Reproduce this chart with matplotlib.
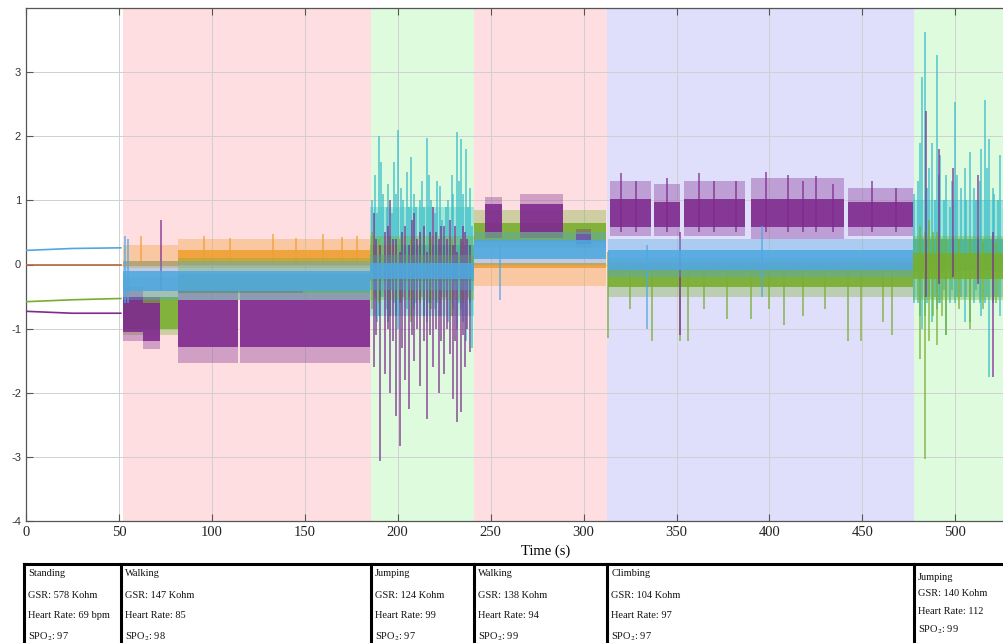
import matplotlib
matplotlib.use("Agg")
import matplotlib.pyplot as plt

plt.rcParams['axes.unicode_minus'] = False
plt.rcParams['mathtext.fontset'] = 'stix'

# activity segments (s) and background colours
seg_edges = [52.3, 185.4, 241.0, 312.7, 477.6, 559.0]
seg_colors = ['#FFDEE1', '#DEFBDD', '#FFDEE1', '#DFDEFB', '#DEFBDD']

# table text
activities = ['Standing', 'Walking', 'Jumping', 'Walking', 'Climbing', 'Jumping']
gsr = [578, 147, 124, 138, 104, 140]
heart = ['69 bpm', '85', '99', '94', '97', '112']
spo2 = [97, 98, 97, 99, 97, 99]
cell_edges = [-1.0, 51.2, 185.4, 241.0, 312.7, 477.6]

# standing phase: flat traces
stand_t = [0, 25, 51]
stand_blue = [0.22, 0.25, 0.26]
stand_orange = [0.0, 0.0, 0.0]
stand_green = [-0.58, -0.55, -0.53]
stand_purple = [-0.73, -0.76, -0.76]

# activity blocks per channel: (t0, t1, outer_lo, outer_hi, core_lo, core_hi)
orange_blocks = [
    (52, 82, -0.05, 0.30, -0.03, 0.06),
    (82, 185, -0.05, 0.40, 0.00, 0.22),
    (185, 200, -0.20, 0.30, -0.05, 0.10),
    (241, 312, -0.33, 0.03, -0.06, 0.02),
    (313, 477, -0.10, 0.05, -0.05, 0.03),
]
green_blocks = [
    (52, 82, -1.10, -0.20, -1.00, -0.50),
    (82, 185, -0.55, 0.10, -0.45, -0.15),
    (185, 241, -0.55, 0.45, -0.25, 0.15),
    (241, 312, 0.25, 0.85, 0.35, 0.65),
    (313, 477, -0.50, 0.10, -0.35, -0.05),
    (477, 559, -0.55, 0.45, -0.22, 0.18),
]
purple_blocks = [
    (52, 63, -1.20, -0.35, -1.05, -0.50),
    (63, 72, -1.32, -0.50, -1.20, -0.60),
    (82, 114, -1.53, -0.40, -1.28, -0.55),
    (115, 149, -1.53, -0.42, -1.28, -0.55),
    (149, 185, -1.53, -0.45, -1.28, -0.55),
    (247, 256, 0.42, 1.06, 0.50, 0.95),
    (266, 289, 0.42, 1.10, 0.50, 0.95),
    (296, 304, 0.28, 0.55, 0.32, 0.48),
    (314, 336, 0.45, 1.30, 0.58, 1.02),
    (338, 352, 0.45, 1.25, 0.58, 0.98),
    (354, 387, 0.45, 1.30, 0.58, 1.02),
    (390, 440, 0.40, 1.35, 0.58, 1.02),
    (442, 477, 0.45, 1.20, 0.58, 0.98),
]
blue_blocks = [
    (52, 185, -0.55, 0.05, -0.42, -0.10),
    (185, 241, -0.40, 0.15, -0.22, 0.02),
    (241, 312, 0.00, 0.50, 0.08, 0.38),
    (313, 477, -0.20, 0.40, -0.08, 0.22),
]
cyan_blocks = [
    (185, 241, -0.80, 0.90, -0.20, 0.30),
    (477, 559, -0.50, 1.00, -0.10, 0.40),
]

# spikes per channel: (t, lo, hi)
cyan_spikes = [
    (186, -0.4, 1.0), (188, -0.5, 1.4), (189, -0.9, 0.8), (190, -0.8, 2.0),
    (191, -0.5, 1.6), (192, -0.5, 1.1), (194, -0.7, 0.9), (195, -0.9, 1.25),
    (197, -0.4, 0.8), (198, -0.6, 1.6), (199, -0.8, 1.1), (200, -1.0, 2.1),
    (202, -0.6, 1.2), (203, -0.5, 1.0), (205, -0.7, 1.45), (206, -0.5, 0.9),
    (207, -0.8, 1.68), (209, -0.7, 1.1), (210, -0.6, 0.9), (212, -0.5, 1.0),
    (213, -0.5, 1.3), (214, -0.8, 0.9), (215.5, -0.9, 1.98), (217, -0.6, 1.4),
    (218, -0.6, 1.0), (220, -0.7, 0.8), (221, -0.6, 1.3), (223, -0.8, 1.22),
    (224, -0.5, 0.7), (226, -0.5, 0.9), (227, -0.9, 1.0), (229, -0.6, 1.4),
    (230, -0.7, 1.1), (232, -1.0, 2.07), (233, -0.6, 1.3), (234, -0.7, 1.95),
    (235, -0.9, 1.1), (236.5, -1.2, 1.8), (238, -0.5, 0.9), (239, -0.6, 1.2),
    (240, -1.3, 0.6),
    (478, -0.6, 1.1), (480, -0.6, 1.3), (481, -0.8, 1.9), (482, -1.0, 2.93),
    (483.6, -0.8, 3.63), (485, -0.6, 1.2), (486, -0.5, 1.5), (487.7, -0.9, 1.9),
    (489, -0.5, 1.0), (490, -0.7, 3.27), (491, -0.6, 1.4), (492, -0.6, 1.7),
    (494, -0.4, 1.0), (495, -1.1, 1.4), (497, -0.6, 0.9), (498, -0.4, 1.3),
    (500, -0.6, 2.54), (501, -0.5, 1.4), (503, -0.5, 1.2), (505, -0.9, 1.5),
    (506, -0.5, 1.0), (508, -0.9, 1.75), (510, -0.6, 1.2), (511, -0.4, 1.0),
    (513, -0.6, 1.3), (514, -0.8, 1.8), (516, -0.6, 2.57), (517, -0.5, 1.5),
    (518, -1.76, 1.96), (520, -0.6, 1.2), (521, -0.5, 1.1), (523, -0.5, 1.0),
    (524, -0.8, 1.7), (526, -0.6, 2.2), (528, -0.5, 1.3), (530, -0.5, 1.6),
    (534, -0.9, 2.3), (538, -0.6, 1.4),
]
purple_spikes = [
    (72.5, -0.4, 0.7),
    (187, -1.6, 0.8), (188.5, -1.1, 0.4), (190.5, -3.07, 0.3), (193, -1.7, 0.5),
    (194.5, -1.0, 0.6), (196, -2.0, 1.0), (197.5, -1.2, 0.4), (199, -2.37, 0.4),
    (201, -2.83, 0.2), (202.5, -1.3, 0.5), (204, -1.8, 0.6), (206, -2.26, 0.3),
    (207.5, -1.1, 0.7), (209, -1.5, 0.8), (210.5, -1.0, 0.4), (212, -1.9, 0.5),
    (214, -1.2, 0.6), (216, -2.41, 0.2), (217.5, -1.1, 0.5), (219, -1.6, 0.9),
    (220.5, -1.0, 0.5), (222, -2.0, 0.4), (223.5, -1.2, 0.6), (225, -1.7, 0.6),
    (226.5, -1.0, 0.4), (228, -1.4, 0.7), (230, -2.1, 0.3), (231, -1.2, 0.6),
    (232, -2.46, 0.2), (234, -2.3, 0.4), (235, -1.1, 0.6), (236, -1.6, 0.5),
    (237.5, -1.0, 0.4), (239, -1.37, 0.3),
    (320, 0.5, 1.43), (328, 0.5, 1.3), (345, 0.5, 1.35), (352, -1.1, 0.5),
    (362, 0.5, 1.42), (370, 0.5, 1.3), (382, 0.5, 1.3), (398, 0.5, 1.45),
    (410, 0.5, 1.4), (418, 0.5, 1.3), (425, 0.5, 1.38), (434, 0.5, 1.25),
    (455, 0.5, 1.3), (468, 0.5, 1.2),
    (484, -0.5, 2.4), (491, -0.3, 1.8), (499, -0.2, 1.5), (512, -0.3, 1.4),
    (520, -1.76, 0.5),
]
green_spikes = [
    (186, -0.7, 0.5), (190, -0.6, 0.4), (196, -0.8, 0.45), (201, -0.6, 0.4),
    (207, -0.9, 0.4), (212, -0.6, 0.35), (218, -0.7, 0.4), (223, -0.6, 0.3),
    (229, -0.8, 0.4), (235, -0.6, 0.35),
    (313, -1.14, 0.2), (325, -0.7, 0.0), (337, -1.2, 0.0), (352, -1.2, 0.0),
    (356, -1.2, 0.0), (365, -0.7, 0.0), (377, -0.85, 0.0), (390, -0.85, 0.0),
    (400, -0.7, 0.0), (408, -0.95, 0.0), (418, -0.8, 0.0), (430, -0.7, 0.0),
    (442, -1.2, 0.0), (449, -1.2, 0.0), (461, -0.9, 0.0), (466, -1.1, 0.0),
    (481, -1.48, 0.6), (483.6, -3.04, 0.5), (486, -1.2, 0.7), (488, -0.8, 0.5),
    (490, -1.25, 0.5), (493, -0.8, 0.4), (495, -1.1, 0.4), (502, -0.7, 0.4),
    (508, -1.0, 0.4), (515, -0.7, 0.35), (522, -0.6, 0.35),
]
blue_spikes = [
    (53, -0.6, 0.45), (55, -0.6, 0.4), (255, -0.55, 0.3), (334, -1.0, 0.3),
    (396, -0.5, 0.6),
]
orange_spikes = [
    (62, 0.0, 0.45), (96, 0.0, 0.45), (110, 0.0, 0.42), (133, 0.0, 0.48),
    (145, 0.0, 0.42), (160, 0.0, 0.48), (170, 0.0, 0.43), (178, 0.0, 0.45),
]

C_PURPLE = '#7E2A8E'
C_ORANGE = '#F0A030'
C_BLUE = '#4FA8E0'
C_GREEN = '#78AE2E'
C_CYAN = '#36BCCB'
C_BROWN = '#B5673A'

fig = plt.figure(figsize=(10.04, 6.43), dpi=100)
ax = fig.add_axes([26 / 1004, (643 - 521) / 643, 1039 / 1004, 513 / 643])

for i, c in enumerate(seg_colors):
    ax.axvspan(seg_edges[i], seg_edges[i + 1], color=c, lw=0, zorder=0)


def draw_blocks(blocks, color, z):
    for t0, t1, olo, ohi, clo, chi in blocks:
        ax.fill_between([t0, t1], [olo, olo], [ohi, ohi], color=color,
                        alpha=0.35, lw=0, zorder=z)
        ax.fill_between([t0, t1], [clo, clo], [chi, chi], color=color,
                        alpha=0.88, lw=0, zorder=z)


def draw_spikes(spikes, color, z):
    ts = [s[0] for s in spikes]
    lo = [s[1] for s in spikes]
    hi = [s[2] for s in spikes]
    ax.vlines(ts, lo, hi, color=color, lw=1.1, alpha=0.85, zorder=z)


draw_blocks(cyan_blocks, C_CYAN, 2)
draw_spikes(cyan_spikes, C_CYAN, 2.1)
draw_blocks(orange_blocks, C_ORANGE, 2.5)
draw_spikes(orange_spikes, C_ORANGE, 2.5)
draw_blocks(green_blocks, C_GREEN, 3)
draw_spikes(green_spikes, C_GREEN, 3.1)
draw_blocks(purple_blocks, C_PURPLE, 3.5)
draw_spikes(purple_spikes, C_PURPLE, 3.4)
draw_blocks(blue_blocks, C_BLUE, 4)
draw_spikes(blue_spikes, C_BLUE, 4)

ax.plot(stand_t, stand_blue, color=C_BLUE, lw=1.2, zorder=4)
ax.plot(stand_t, stand_orange, color=C_BROWN, lw=1.2, zorder=4)
ax.plot(stand_t, stand_green, color=C_GREEN, lw=1.2, zorder=4)
ax.plot(stand_t, stand_purple, color=C_PURPLE, lw=1.2, zorder=4)

ax.set_xlim(0, 559)
ax.set_ylim(-4, 4)
ax.set_xticks(range(0, 501, 50))
ax.set_yticks(range(-4, 4))
ax.grid(True, color='#D0D0D0', lw=0.7)
ax.tick_params(direction='in', length=5, color='#555555', top=True, right=False)
for lab in ax.get_xticklabels():
    lab.set_family('Liberation Serif')
    lab.set_fontsize(10.5)
    lab.set_color('#222222')
for lab in ax.get_yticklabels():
    lab.set_family('Liberation Sans')
    lab.set_fontsize(8)
    lab.set_color('#333333')
for s in ['left', 'bottom', 'top']:
    ax.spines[s].set_color('#555555')
    ax.spines[s].set_linewidth(0.9)
ax.spines['right'].set_visible(False)
ax.set_xlabel('Time (s)', family='Liberation Serif', fontsize=10.5, labelpad=4)

# table below the plot: x in seconds, y in pixels
tab = fig.add_axes([26 / 1004, 0, 1039 / 1004, 1])
tab.set_xlim(0, 559)
tab.set_ylim(643, 0)
tab.axis('off')
tab.patch.set_alpha(0)
tab.plot([cell_edges[0], 559], [564, 564], color='black', lw=2.2, clip_on=False)
for e in cell_edges:
    tab.plot([e, e], [564, 650], color='black', lw=2.2, clip_on=False)

for i, e in enumerate(cell_edges):
    rows = [activities[i], f'GSR: {gsr[i]} Kohm', f'Heart Rate: {heart[i]}',
            f'SPO$_2$: {spo2[i]}']
    ys = [574, 595, 616, 637] if i < 5 else [577, 594, 612, 630]
    for txt, y in zip(rows, ys):
        tab.text(e + 2.2, y, txt, family='Liberation Serif', fontsize=7.5,
                 va='center', ha='left', color='#111111')

fig.savefig('out.png', dpi=100)
